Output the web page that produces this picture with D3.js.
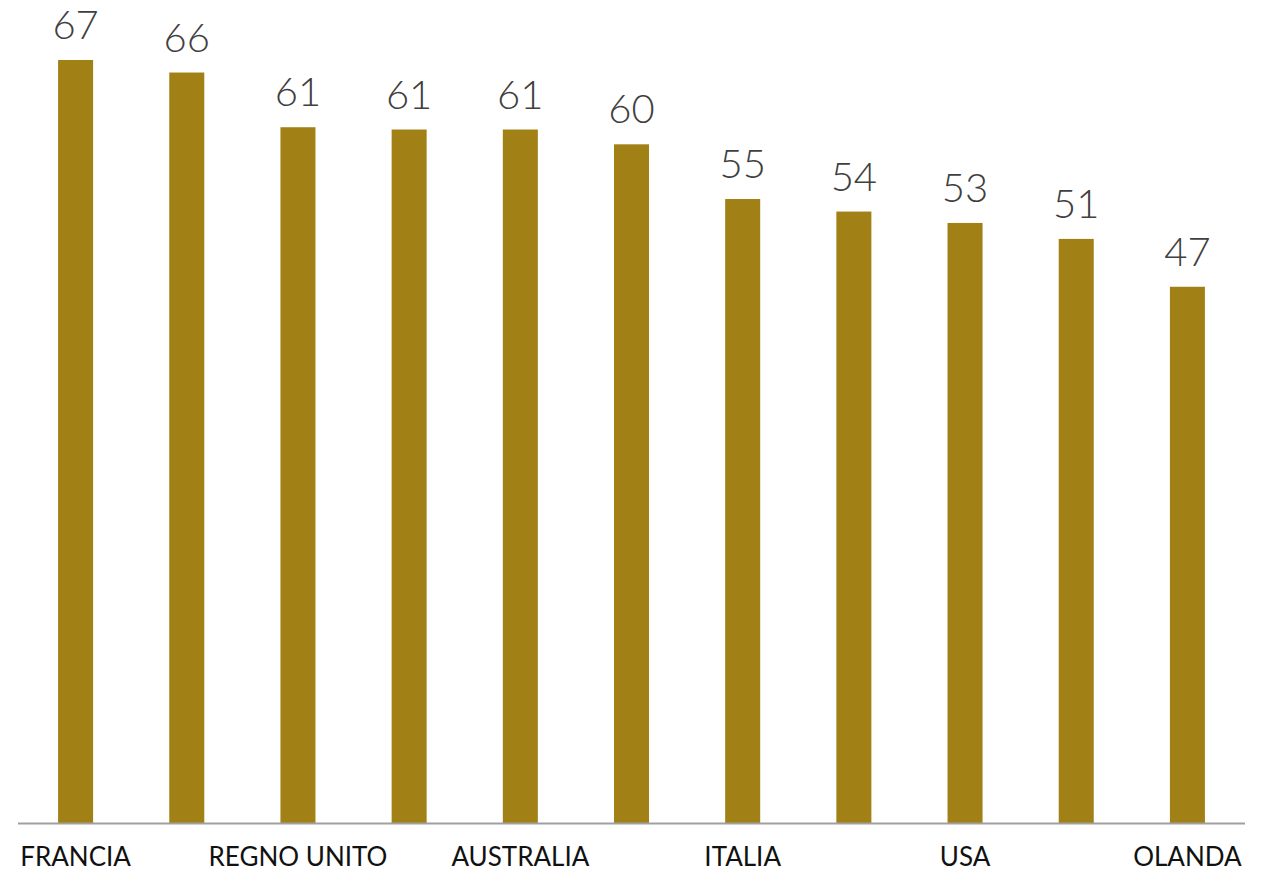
<!DOCTYPE html>
<html><head><meta charset="utf-8">
<script src="https://cdn.jsdelivr.net/npm/d3@7"></script>
<style>html,body{margin:0;padding:0;background:#fff;}</style>
</head><body>
<svg id="chart" width="1271" height="872"></svg>
<script>
// Categories (alternate labels are hidden in the original, shown as empty)
const categories = ["FRANCIA", "", "REGNO UNITO", "", "AUSTRALIA", "", "ITALIA", "", "USA", "", "OLANDA"];
// Values; labels show them rounded
const values = [67, 65.9, 61.1, 60.9, 60.9, 59.6, 54.8, 53.7, 52.7, 51.3, 47.1];
const yDomain = [0, 70];

const svg = d3.select("#chart");
const x = d3.scaleBand().domain(d3.range(values.length)).range([20, 1243]).paddingInner(0.685).paddingOuter(0.3425);
const y = d3.scaleLinear().domain(yDomain).range([823.5, 25.8]);

svg.selectAll("rect.bar").data(values).join("rect")
  .attr("class", "bar")
  .attr("x", (d, i) => x(i))
  .attr("width", x.bandwidth())
  .attr("y", d => y(d))
  .attr("height", d => y(0) - y(d))
  .attr("fill", "#A18015");

svg.selectAll("text.val").data(values).join("text")
  .attr("class", "val")
  .attr("x", (d, i) => x(i) + x.bandwidth() / 2)
  .attr("y", d => y(d) - 21)
  .attr("text-anchor", "middle")
  .attr("font-family", "Lato, 'Noto Sans', sans-serif")
  .attr("font-weight", 300)
  .attr("font-size", 40)
  .attr("fill", "#404040")
  .text(d => d3.format(".0f")(d));

const axis = d3.axisBottom(x).tickSize(0).tickPadding(24).tickFormat(i => categories[i]);
const g = svg.append("g").attr("transform", `translate(0,${y(0)})`).call(axis);
g.select(".domain").attr("stroke", "#a0a0a0").attr("stroke-width", 2).attr("d", "M18,0H1245");
g.selectAll("text")
  .attr("font-family", "Lato, 'Noto Sans', sans-serif")
  .attr("font-size", 26)
  .attr("fill", "#111");
</script>
</body></html>
